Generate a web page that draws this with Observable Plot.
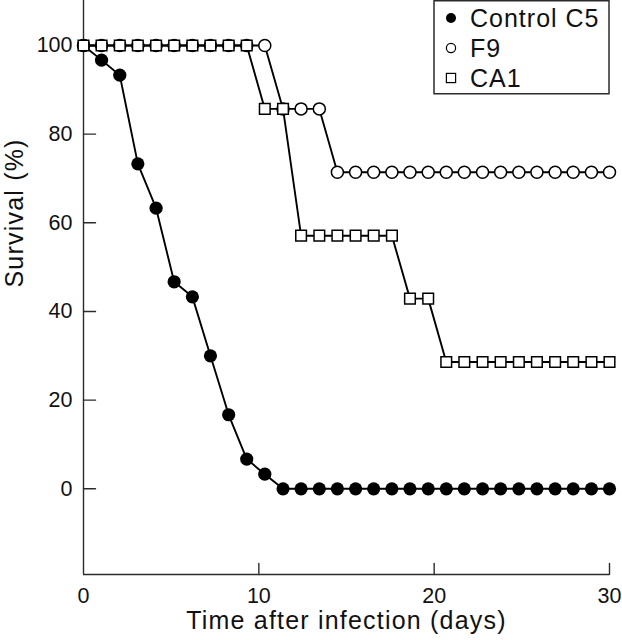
<!DOCTYPE html>
<html><head><meta charset="utf-8">
<script src="https://cdn.jsdelivr.net/npm/d3@7"></script>
<script src="https://cdn.jsdelivr.net/npm/@observablehq/plot@0.6"></script>
<style>
html,body{margin:0;padding:0;background:#fff;}
#chart{position:relative;width:622px;height:640px;}
</style></head><body><div id="chart"></div>
<script>
// ---- data ----
const days = [0, 1.03, 2.07, 3.1, 4.14, 5.17, 6.21, 7.24, 8.28, 9.31, 10.34, 11.38, 12.41, 13.45, 14.48,
  15.52, 16.55, 17.59, 18.62, 19.66, 20.69, 21.72, 22.76, 23.79, 24.83, 25.86, 26.9, 27.93, 28.97, 30];
const controlC5 = [100, 96.7, 93.3, 73.3, 63.3, 46.7, 43.3, 30, 16.7, 6.7, 3.3, 0, 0, 0, 0,
  0, 0, 0, 0, 0, 0, 0, 0, 0, 0, 0, 0, 0, 0, 0];
const f9 = [100, 100, 100, 100, 100, 100, 100, 100, 100, 100, 100, 85.7, 85.7, 85.7, 71.4,
  71.4, 71.4, 71.4, 71.4, 71.4, 71.4, 71.4, 71.4, 71.4, 71.4, 71.4, 71.4, 71.4, 71.4, 71.4];
const ca1 = [100, 100, 100, 100, 100, 100, 100, 100, 100, 100, 85.7, 85.7, 57.1, 57.1, 57.1,
  57.1, 57.1, 57.1, 42.9, 42.9, 28.6, 28.6, 28.6, 28.6, 28.6, 28.6, 28.6, 28.6, 28.6, 28.6];
const seriesNames = ["Control C5", "F9", "CA1"];
const xTicks = [0, 10, 20, 30];
const yTicks = [0, 20, 40, 60, 80, 100];
const xDomain = [0, 30];
const yDomain = [-19.33, 110.15];
const xTitle = "Time after infection (days)";
const yTitle = "Survival (%)";

// ---- build tables ----
const rows = (vals, name) => days.map((d, i) => ({day: d, survival: vals[i], series: name}));
const cData = rows(controlC5, seriesNames[0]);
const fData = rows(f9, seriesNames[1]);
const aData = rows(ca1, seriesNames[2]);

const tickShape = {draw(ctx, l) { ctx.moveTo(0, 0); ctx.lineTo(0, -l); }};
const axisColor = "#2b2b2b";
const font = '"Liberation Sans", Arial, Helvetica, sans-serif';

const plot = Plot.plot({
  width: 622, height: 640,
  marginLeft: 83, marginRight: 13, marginTop: 0, marginBottom: 66,
  x: {domain: xDomain, axis: null},
  y: {domain: yDomain, axis: null},
  style: {fontFamily: font, fontSize: "21px", background: "#fff", color: "#111", overflow: "visible"},
  marks: [
    Plot.ruleX([xDomain[0]], {stroke: axisColor, strokeWidth: 1.4}),
    Plot.ruleY([yDomain[0]], {stroke: axisColor, strokeWidth: 1.4}),
    Plot.vector(yTicks, {y: d => d, frameAnchor: "left", length: 12, rotate: 90, anchor: "start",
      shape: tickShape, stroke: axisColor, strokeWidth: 1.4}),
    Plot.vector(xTicks.filter(t => t > xDomain[0]), {x: d => d, frameAnchor: "bottom", length: 11, rotate: 0,
      anchor: "start", shape: tickShape, stroke: axisColor, strokeWidth: 1.4}),
    Plot.text(yTicks, {y: d => d, frameAnchor: "left", text: d => String(d), textAnchor: "end",
      dx: -11, fontSize: 21.5, fill: "#111"}),
    Plot.text(xTicks, {x: d => d, frameAnchor: "bottom", text: d => String(d), lineAnchor: "top",
      dy: 13, fontSize: 21.5, fill: "#111"}),
    Plot.text([xTitle], {frameAnchor: "bottom", text: d => d, dy: 54, fontSize: 25, fill: "#111"}),
    Plot.text([yTitle], {frameAnchor: "left", text: d => d, rotate: -90, dx: -69, fontSize: 25, fill: "#111"}),
    Plot.line(cData, {x: "day", y: "survival", stroke: "#000", strokeWidth: 1.9}),
    Plot.dot(cData, {x: "day", y: "survival", r: 6.6, fill: "#000", stroke: "none"}),
    Plot.line(fData, {x: "day", y: "survival", stroke: "#000", strokeWidth: 1.9}),
    Plot.dot(fData, {x: "day", y: "survival", r: 6, fill: "#fff", stroke: "#000", strokeWidth: 1.5}),
    Plot.line(aData, {x: "day", y: "survival", stroke: "#000", strokeWidth: 1.9}),
    Plot.dot(aData, {x: "day", y: "survival", symbol: "square", r: 6, fill: "#fff", stroke: "#000", strokeWidth: 1.5})
  ]
});

// letter spacing for titles
d3.select(plot).selectAll("text").filter(function() {
  return this.textContent === xTitle || this.textContent === yTitle;
}).style("letter-spacing", "1.2px");

// ---- legend (inside plot, top-right) ----
const right = plot.scale("x").apply(xDomain[1]);
const svg = d3.select(plot);
const lg = svg.append("g").attr("font-family", font).attr("font-size", 25).attr("fill", "#111")
  .attr("text-anchor", "start");
lg.append("rect").attr("x", right - 175).attr("y", 0.75).attr("width", 175).attr("height", 93)
  .attr("fill", "#fff").attr("stroke", axisColor).attr("stroke-width", 1.5);
const baselines = [27, 57, 87];
const mx = right - 158, tx = right - 139;
seriesNames.forEach((name, i) => {
  const cy = baselines[i] - 9;
  if (i === 0) lg.append("circle").attr("cx", mx).attr("cy", cy).attr("r", 5).attr("fill", "#000");
  else if (i === 1) lg.append("circle").attr("cx", mx).attr("cy", cy).attr("r", 4.6).attr("fill", "#fff").attr("stroke", "#000").attr("stroke-width", 1.2);
  else lg.append("rect").attr("x", mx - 4.6).attr("y", cy - 4.6).attr("width", 9.2).attr("height", 9.2).attr("fill", "#fff").attr("stroke", "#000").attr("stroke-width", 1.2);
  lg.append("text").attr("x", tx).attr("y", baselines[i]).attr("text-anchor", "start")
    .style("letter-spacing", "1px").text(name);
});

document.getElementById("chart").appendChild(plot);
</script>
</body></html>
